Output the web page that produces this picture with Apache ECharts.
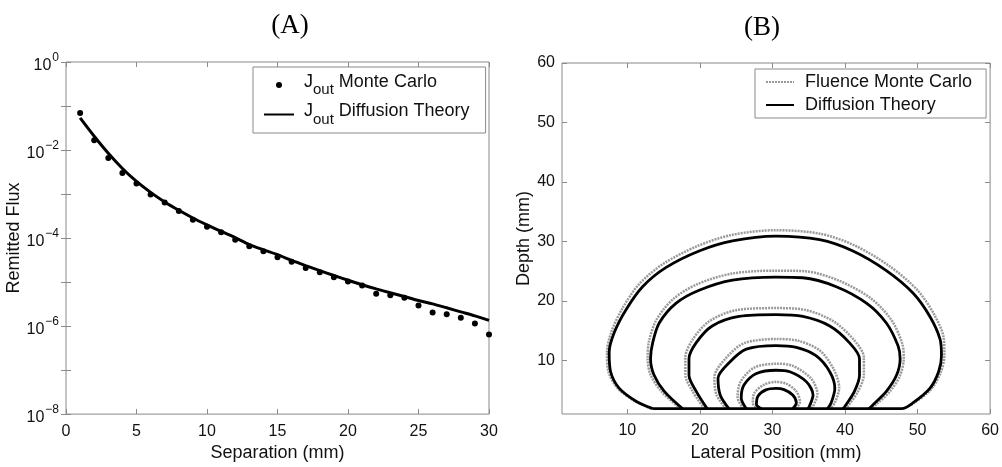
<!DOCTYPE html>
<html><head><meta charset="utf-8">
<script src="https://cdn.jsdelivr.net/npm/echarts@6/dist/echarts.min.js"></script>
<style>html,body{margin:0;padding:0;background:#fff}#c{width:1002px;height:467px}</style>
</head><body><div id="c"></div>
<script>
// ---------- Panel A data ----------
const separation = [1,2,3,4,5,6,7,8,9,10,11,12,13,14,15,16,17,18,19,20,21,22,23,24,25,26,27,28,29,30];
const mcFlux = [0.069,0.0167,0.0066,0.0030,0.00173,0.00098,0.00064,0.00041,0.00026,0.00018,
  0.000136,9.2e-5,6.5e-5,5.0e-5,3.67e-5,2.9e-5,2.1e-5,1.67e-5,1.29e-5,1.03e-5,
  8.3e-6,5.4e-6,5.0e-6,4.4e-6,2.95e-6,2.03e-6,1.86e-6,1.54e-6,1.15e-6,6.4e-7];
const diffFlux = [0.0535,0.0205,0.0084,0.0038,0.00193,0.00109,0.00066,0.000427,0.000286,0.000199,
  1.41e-4,1.02e-4,7.1e-5,5.4e-5,4.2e-5,3.1e-5,2.36e-5,1.82e-5,1.41e-5,1.1e-5,
  8.7e-6,7.0e-6,5.7e-6,4.7e-6,3.8e-6,3.2e-6,2.6e-6,2.1e-6,1.7e-6,1.35e-6];
const sepTicks = [0,5,10,15,20,25,30];
const fluxLabelExps = [0,-2,-4,-6,-8];

// ---------- Panel B data (contours, [lateral, depth]) ----------
const mcContour1 = [[13.3,1.9],[11.0,3.2],[8.7,5.3],[7.4,8.1],[7.2,11.4],[7.8,14.8],[9.3,18.7],[11.6,22.8],[14.9,26.2],[19.6,29.2],[24.4,31.1],[30.5,31.9],[36.6,31.3],[41.4,29.3],[46.2,25.8],[50.0,21.8],[52.3,17.7],[53.6,13.8],[53.7,10.8],[53.2,8.0],[51.9,5.2],[49.6,2.9],[48.0,1.9]];
const mcContour2 = [[17.3,1.9],[14.7,4.8],[13.2,7.6],[12.8,10.4],[13.0,13.3],[14.0,16.8],[16.3,20.3],[19.6,22.8],[24.4,24.6],[30.5,25.1],[34.5,25.0],[39.2,23.4],[43.6,20.4],[46.4,16.8],[47.9,12.8],[48.1,10.4],[47.6,7.5],[46.2,4.8],[44.3,2.6],[43.6,1.9]];
const mcContour3 = [[20.6,1.9],[19.0,4.8],[18.0,7.6],[18.0,10.5],[19.0,13.5],[21.3,16.6],[25.2,18.5],[30.5,18.8],[34.5,18.5],[38.4,16.6],[41.2,13.5],[42.6,10.5],[42.6,7.6],[41.8,4.8],[40.4,2.3],[40.1,1.9]];
const mcContour4 = [[23.6,1.9],[22.3,4.2],[22.0,7.2],[23.6,10.4],[26.1,12.9],[30.5,13.6],[33.6,13.3],[36.6,11.6],[38.5,8.4],[39.2,5.4],[38.6,2.9],[38.0,1.9]];
const mcContour5 = [[26.0,1.9],[25.2,3.8],[25.6,6.4],[27.5,8.8],[30.5,9.45],[32.8,9.1],[35.3,7.0],[36.2,4.4],[35.6,2.3],[35.3,1.9]];
const mcContour6 = [[28.1,1.9],[27.3,2.8],[27.5,4.5],[28.8,5.9],[30.5,6.4],[31.9,6.1],[33.3,4.8],[33.8,3.0],[33.2,1.9]];

const dtContour1 = [[13.5,1.9],[11.2,3.15],[8.9,5.3],[7.7,8.1],[7.5,11.4],[8.2,14.7],[9.8,18.5],[12.1,22.4],[15.3,25.6],[19.9,28.4],[24.5,30.1],[30.5,30.9],[36.5,30.3],[41.1,28.4],[45.7,25.1],[49.4,21.3],[51.7,17.4],[53.1,13.6],[53.3,10.8],[52.9,8.1],[51.7,5.3],[49.4,2.9],[47.8,1.9],[13.5,1.9]];
const dtContour2 = [[17.6,1.9],[15.1,4.8],[13.7,7.5],[13.2,10.3],[13.5,13.0],[14.4,16.3],[16.7,19.6],[19.9,21.8],[24.5,23.5],[30.5,24.0],[34.2,23.9],[38.8,22.4],[43.0,19.6],[45.7,16.3],[47.3,12.5],[47.6,10.3],[47.1,7.5],[45.7,4.8],[43.9,2.6],[43.3,1.9]];
const dtContour3 = [[21.0,1.9],[19.5,4.8],[18.5,7.5],[18.5,10.3],[19.5,13.0],[21.7,15.8],[25.4,17.4],[30.5,17.7],[34.2,17.4],[37.9,15.8],[40.6,13.0],[42.0,10.3],[42.0,7.5],[41.3,4.8],[40.0,2.3],[39.7,1.9]];
const dtContour4 = [[24.0,1.9],[22.8,4.2],[22.5,7.0],[24.1,9.7],[26.4,11.9],[30.5,12.5],[33.3,12.2],[36.0,10.8],[37.9,8.1],[38.6,5.3],[38.1,2.9],[37.6,1.9]];
const dtContour5 = [[26.4,1.9],[25.7,3.7],[26.1,5.9],[27.8,7.8],[30.5,8.35],[32.4,8.1],[34.7,6.4],[35.6,4.2],[35.1,2.3],[34.9,1.9]];
const dtContour6 = [[28.5,1.9],[27.8,2.6],[28.0,4.0],[29.1,5.05],[30.5,5.3],[31.6,5.1],[32.8,4.2],[33.3,2.9],[32.8,1.9]];
const lateralTicks = [10,20,30,40,50,60];
const depthTicks = [10,20,30,40,50,60];

// ---------- chart ----------
const chart = echarts.init(document.getElementById('c'), null, {renderer:'canvas'});
const FONT = 'Liberation Sans, Arial, sans-serif';
const SERIF = 'Liberation Serif, Times New Roman, serif';
const GRAY = '#8a8a8a';
const tickStyle = {show:true, inside:true, length:5, lineStyle:{color:GRAY, width:1}};
const noLine = {show:false};
const hiddenSymbol = {opacity:0};

const mcNames = 'Fluence Monte Carlo', dtNames = 'Diffusion Theory';
const mcSeries = [mcContour1,mcContour2,mcContour3,mcContour4,mcContour5,mcContour6].map(d => ({
  name: mcNames, type:'line', xAxisIndex:2, yAxisIndex:2, data:d, symbol:'none', smooth:0.3,
  itemStyle:{color:'#9a9a9a'},
  lineStyle:{color:'#9a9a9a', width:2.5, type:[2,1]}, silent:true, animation:false, z:2
}));
const dtSeries = [dtContour1,dtContour2,dtContour3,dtContour4,dtContour5,dtContour6].map(d => ({
  name: dtNames, type:'line', xAxisIndex:2, yAxisIndex:2, data:d, symbol:'none', smooth:0.3,
  itemStyle:{color:'#000'},
  lineStyle:{color:'#000', width:2.8}, silent:true, animation:false, z:3
}));

const option = {
  animation:false,
  backgroundColor:'#fff',
  title:[
    {text:'(A)', left:285, top:7, textAlign:'center', textStyle:{fontFamily:SERIF, fontSize:27, fontWeight:'normal', color:'#000'}},
    {text:'(B)', left:757, top:9, textAlign:'center', textStyle:{fontFamily:SERIF, fontSize:27, fontWeight:'normal', color:'#000'}}
  ],
  legend:[
    {
      left:253, top:67, orient:'vertical', itemWidth:30, itemHeight:6, itemGap:5,
      padding:[6,16,6,10], borderColor:GRAY, borderWidth:1, backgroundColor:'#fff',
      data:[{name:'Jout Monte Carlo', icon:'circle'}, {name:'Jout Diffusion Theory', itemStyle:hiddenSymbol}],
      formatter: n => '{j|J}{s|out}{t|' + n.slice(4) + '}',
      textStyle:{color:'#111', fontFamily:FONT, fontSize:18,
        rich:{ j:{fontSize:18, fontFamily:FONT, color:'#111', padding:[0,0,6,5]},
               s:{fontSize:15, fontFamily:FONT, color:'#111', padding:[10,0,0,0]},
               t:{fontSize:18, fontFamily:FONT, color:'#111', padding:[0,0,6,0]} }},
      selectedMode:false
    },
    {
      left:755, top:69, orient:'vertical', itemWidth:28, itemHeight:6, itemGap:5,
      padding:[4,14,4,10], borderColor:GRAY, borderWidth:1, backgroundColor:'#fff',
      data:[{name:mcNames, itemStyle:hiddenSymbol}, {name:dtNames, itemStyle:hiddenSymbol}],
      textStyle:{color:'#111', fontFamily:FONT, fontSize:18, padding:[0,0,0,6]},
      selectedMode:false
    }
  ],
  grid:[
    {left:66, top:62, width:423, height:354, show:true, borderColor:GRAY, borderWidth:1, containLabel:false},
    {left:562, top:63, width:429, height:359, show:true, borderColor:GRAY, borderWidth:1, containLabel:false}
  ],
  xAxis:[
    {gridIndex:0, type:'value', min:sepTicks[0], max:sepTicks[sepTicks.length-1], interval:5, position:'bottom',
     axisLine:noLine, axisTick:tickStyle, splitLine:{show:false},
     axisLabel:{color:'#111', fontFamily:FONT, fontSize:16, margin:9},
     name:'Separation (mm)', nameLocation:'middle', nameGap:27,
     nameTextStyle:{color:'#111', fontFamily:FONT, fontSize:18}},
    {gridIndex:0, type:'value', min:sepTicks[0], max:sepTicks[sepTicks.length-1], interval:5, position:'top',
     axisLine:noLine, axisTick:tickStyle, splitLine:{show:false}, axisLabel:{show:false}},
    {gridIndex:1, type:'value', min:1, max:60, position:'bottom',
     axisLine:noLine, axisTick:Object.assign({customValues:lateralTicks}, tickStyle), splitLine:{show:false},
     axisLabel:{customValues:lateralTicks, color:'#111', fontFamily:FONT, fontSize:16, margin:9},
     name:'Lateral Position (mm)', nameLocation:'middle', nameGap:30,
     nameTextStyle:{color:'#111', fontFamily:FONT, fontSize:18}},
    {gridIndex:1, type:'value', min:1, max:60, position:'top',
     axisLine:noLine, axisTick:Object.assign({customValues:lateralTicks}, tickStyle), splitLine:{show:false}, axisLabel:{show:false}}
  ],
  yAxis:[
    {gridIndex:0, type:'log', logBase:10, min:1e-8, max:1, splitNumber:8, position:'left',
     axisLine:noLine, axisTick:tickStyle, splitLine:{show:false},
     axisLabel:{margin:7, color:'#111', fontFamily:FONT, fontSize:16,
       formatter: v => { const e = Math.round(Math.log10(v)); return fluxLabelExps.includes(e) ? '{b|10}{p|' + (e<0 ? '\u2212' + (-e) : e) + '}' : ''; },
       rich:{ b:{fontSize:16, fontFamily:FONT, color:'#111', padding:[7,0,0,0]},
              p:{fontSize:12, fontFamily:FONT, color:'#111', padding:[0,0,9,1]} }},
     name:'Remitted Flux', nameLocation:'middle', nameGap:37, nameRotate:90,
     nameTextStyle:{color:'#111', fontFamily:FONT, fontSize:18}},
    {gridIndex:0, type:'log', logBase:10, min:1e-8, max:1, splitNumber:8, position:'right',
     axisLine:noLine, axisTick:tickStyle, splitLine:{show:false}, axisLabel:{show:false}},
    {gridIndex:1, type:'value', min:1, max:60, position:'left',
     axisLine:noLine, axisTick:Object.assign({customValues:depthTicks}, tickStyle), splitLine:{show:false},
     axisLabel:{customValues:depthTicks, color:'#111', fontFamily:FONT, fontSize:16, margin:7},
     name:'Depth (mm)', nameLocation:'middle', nameGap:22, nameRotate:90,
     nameTextStyle:{color:'#111', fontFamily:FONT, fontSize:18}},
    {gridIndex:1, type:'value', min:1, max:60, position:'right',
     axisLine:noLine, axisTick:Object.assign({customValues:depthTicks}, tickStyle), splitLine:{show:false}, axisLabel:{show:false}}
  ],
  series:[
    {name:'Jout Monte Carlo', type:'scatter', xAxisIndex:0, yAxisIndex:0,
     data: separation.map((x,i) => [x, mcFlux[i]]), symbol:'circle', symbolSize:6,
     itemStyle:{color:'#000', opacity:1}, silent:true, z:3},
    {name:'Jout Diffusion Theory', type:'line', xAxisIndex:0, yAxisIndex:0,
     data: separation.map((x,i) => [x, diffFlux[i]]), symbol:'none', smooth:0.3,
     itemStyle:{color:'#000'},
     lineStyle:{color:'#000', width:3}, silent:true, z:2},
    ...mcSeries,
    ...dtSeries
  ]
};
chart.setOption(option);
</script>
</body></html>
